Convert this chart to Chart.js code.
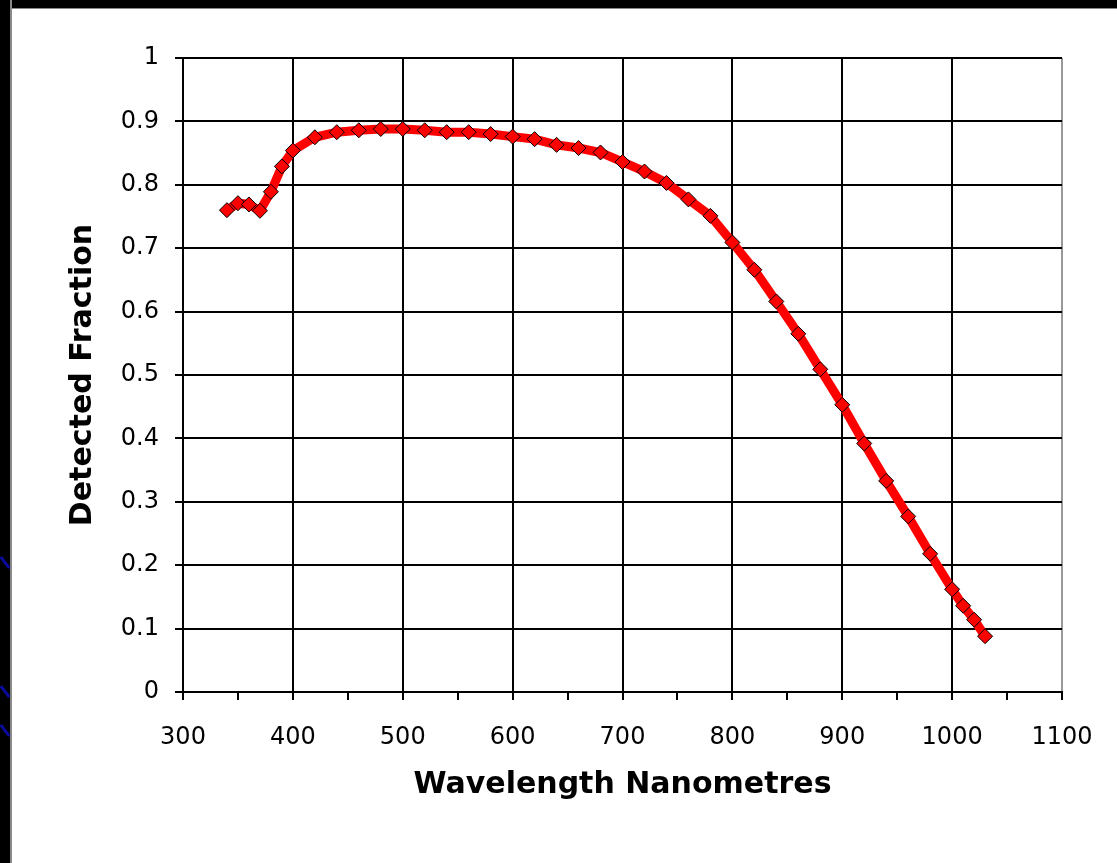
<!DOCTYPE html>
<html>
<head>
<meta charset="utf-8">
<script src="https://cdn.jsdelivr.net/npm/chart.js@4/dist/chart.umd.min.js"></script>
<style>
    html, body { margin: 0; padding: 0; overflow: hidden; background: #fff; }
    .band { position: fixed; background: #000; }
    #panel { position: fixed; left: 12px; top: 9px; }
    #panel canvas { display: block; }
    .arc { position: fixed; left: -2px; width: 14px; height: 3px; background: #0a0a9a; transform: rotate(52deg); }
</style>
</head>
<body>
<div class="band" style="left:0;top:0;width:100%;height:8px;border-bottom:1px solid #8a8a8a"></div>
<div class="band" style="left:0;top:0;width:10px;height:100%;border-right:2px solid #8a8a8a"></div>
<div class="arc" style="top:561px"></div>
<div class="arc" style="top:690px"></div>
<div class="arc" style="top:729px"></div>
<div id="panel"><canvas id="chart" width="1105" height="854"></canvas></div>
<script>
    'use strict';

    // Detected fraction against wavelength
    let wavelengths = [340, 350, 360, 370, 380, 390, 400, 420, 440, 460, 480, 500, 520, 540, 560, 580, 600, 620, 640, 660,
        680, 700, 720, 740, 760, 780, 800, 820, 840, 860, 880, 900, 920, 940, 960, 980, 1000, 1010, 1020, 1030];
    let fractions = [0.760, 0.771, 0.769, 0.759, 0.789, 0.829, 0.854, 0.875, 0.883, 0.886, 0.888, 0.888, 0.886, 0.883, 0.883, 0.880, 0.876, 0.872, 0.863, 0.858,
        0.851, 0.836, 0.821, 0.803, 0.777, 0.751, 0.709, 0.666, 0.616, 0.565, 0.509, 0.453, 0.392, 0.333, 0.277, 0.218, 0.162, 0.136, 0.114, 0.088];

    let xRange = [300, 1100];
    let yRange = [0, 1];

    let tickFont = { family: 'DejaVu Sans', size: 24 };
    let titleFont = { family: 'DejaVu Sans', size: 30, weight: 'bold' };

    let points = wavelengths.map(function(w, i) {
        return { x: w, y: fractions[i] };
    });

    let config = {
        type: 'scatter',
        data: {
            datasets: [{
                data: points,
                showLine: true,
                borderColor: '#ff0000',
                borderWidth: 9,
                tension: 0,
                pointStyle: 'rectRot',
                pointRadius: 7.5,
                pointBackgroundColor: '#ff0000',
                pointBorderColor: '#000',
                pointBorderWidth: 1
            }]
        },
        options: {
            responsive: false,
            animation: false,
            layout: {
                padding: { left: 0, right: 55, top: 49, bottom: 0 }
            },
            plugins: {
                legend: { display: false },
                tooltip: { enabled: false }
            },
            scales: {
                x: {
                    type: 'linear',
                    min: xRange[0],
                    max: xRange[1],
                    afterFit: function(scale) { scale.height = 171; },
                    grid: {
                        color: function(ctx) {
                            let v = ctx.tick.value;
                            if (v === xRange[1]) return '#999';
                            return v % 100 === 0 ? '#000' : 'rgba(0,0,0,0)';
                        },
                        tickColor: '#000',
                        lineWidth: 2,
                        tickLength: 8
                    },
                    border: { color: '#000', width: 2 },
                    ticks: {
                        stepSize: 50,
                        autoSkip: false,
                        maxRotation: 0,
                        color: '#000',
                        font: tickFont,
                        padding: 23,
                        callback: function(v) { return v % 100 === 0 ? String(v) : ''; }
                    },
                    title: {
                        display: true,
                        text: 'Wavelength Nanometres',
                        color: '#000',
                        font: titleFont,
                        padding: { top: 0, bottom: 60 }
                    }
                },
                y: {
                    min: yRange[0],
                    max: yRange[1],
                    afterFit: function(scale) { scale.width = 171; },
                    grid: {
                        color: '#000',
                        tickColor: '#000',
                        lineWidth: 2,
                        tickLength: 8
                    },
                    border: { color: '#000', width: 2 },
                    ticks: {
                        stepSize: 0.1,
                        color: '#000',
                        font: tickFont,
                        padding: 16,
                        callback: function(v) { return String(Number(v.toFixed(1))); }
                    },
                    title: {
                        display: true,
                        text: 'Detected Fraction',
                        color: '#000',
                        font: titleFont,
                        padding: { top: 53, bottom: 0 }
                    }
                }
            }
        }
    };

    let chart = new Chart(document.getElementById('chart'), config);
</script>
</body>
</html>
